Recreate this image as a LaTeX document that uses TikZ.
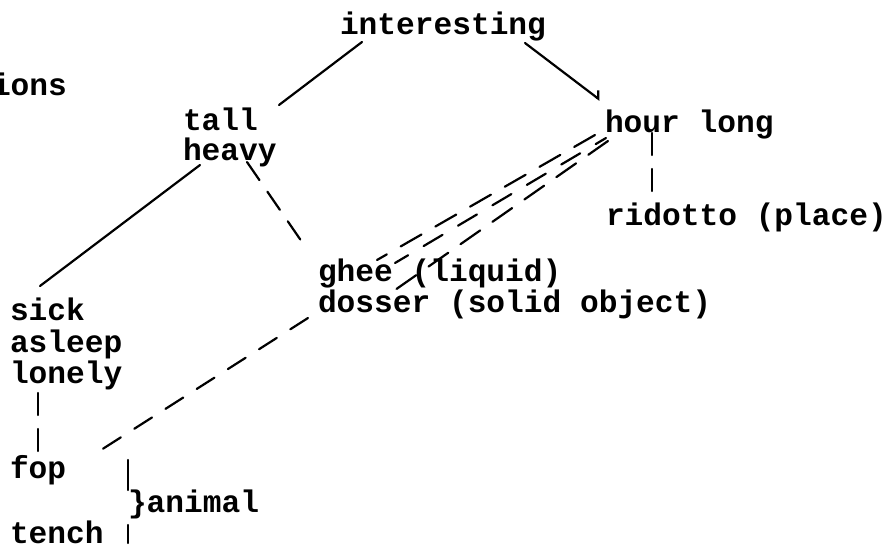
\documentclass[tikz,border=0pt]{standalone}
\usepackage{fontspec}
\setmonofont{Liberation Mono}
\usetikzlibrary{arrows.meta}
\tikzset{
  lbl/.style={anchor=base west, inner sep=0pt, outer sep=0pt,
    font=\ttfamily\bfseries\fontsize{31.2}{31}\selectfont},
  conn/.style={line width=2.2pt, line cap=round},
  dconn/.style={conn, dash pattern=on 22pt off 14pt},
}
\begin{document}
\begin{tikzpicture}[x=1pt, y=-1pt]
\useasboundingbox (0,0) rectangle (896,551);
% labels
\node[lbl] (ions) at (-8,95) {ions};
\node[lbl] (interesting) at (340,35) {interesting};
\node[lbl] (tall) at (183,130) {tall};
\node[lbl] (heavy) at (183,160) {heavy};
\node[lbl] (hour) at (605,132) {hour long};
\node[lbl] (ridotto) at (606,225) {ridotto (place)};
\node[lbl] (ghee) at (318,281) {ghee (liquid)};
\node[lbl] (dosser) at (318,312) {dosser (solid object)};
\node[lbl] (sick) at (10,320) {sick};
\node[lbl] (asleep) at (10,352) {asleep};
\node[lbl] (lonely) at (10,383) {lonely};
\node[lbl] (fop) at (10,478) {fop};
\node[lbl] (tench) at (10,543) {tench};
\node[lbl] (animal) at (128,512) {\}animal};
% connectors
\draw[conn] ([shift={(22,7)}]interesting.base west) -- ([shift={(96,-25)}]tall.base west);
\draw[conn, -{Straight Barb[left, length=5pt, width=13pt, line width=2.2pt]}]
  ([shift={(185,8)}]interesting.base west) -- ([shift={(-5,-32)}]hour.base west);
\draw[conn] ([shift={(17,5)}]heavy.base west) -- ([shift={(30,-34)}]sick.base west);
\draw[dconn] ([shift={(64,2)}]heavy.base west) -- ([shift={(-16,-39)}]ghee.base west);
\draw[dconn, dash pattern=on 24pt off 16pt] ([shift={(-10,3)}]hour.base west) -- ([shift={(59,-21)}]ghee.base west);
\draw[dconn, dash pattern=on 22pt off 18pt, dash phase=10pt] ([shift={(1,6)}]hour.base west) -- ([shift={(77,-18)}]ghee.base west);
\draw[dconn, dash pattern=on 24pt off 15pt] ([shift={(3,9)}]hour.base west) -- ([shift={(67,16)}]ghee.base west);
\draw[dconn] ([shift={(47,1)}]hour.base west) -- ([shift={(46,-32)}]ridotto.base west);
\draw[dconn, dash pattern=on 21pt off 16pt] ([shift={(-10,6)}]dosser.base west) -- ([shift={(80,-21)}]fop.base west);
\draw[dconn] ([shift={(28,10)}]lonely.base west) -- ([shift={(28,-23)}]fop.base west);
% brace ticks
\draw[conn] ([shift={(0,-52)}]animal.base west) -- ([shift={(0,-22)}]animal.base west);
\draw[conn] ([shift={(0,13)}]animal.base west) -- ([shift={(0,31)}]animal.base west);
\end{tikzpicture}
\end{document}
